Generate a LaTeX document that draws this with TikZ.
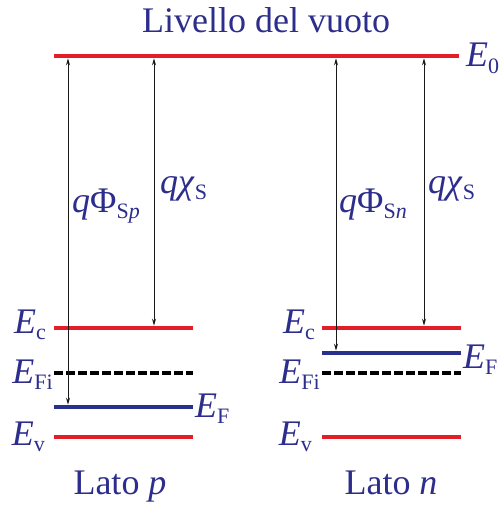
\documentclass[tikz,border=0pt]{standalone}
\usepackage{fontspec}
\setmainfont{Liberation Serif}
\usetikzlibrary{arrows.meta}
\definecolor{tblue}{RGB}{45,45,140}
\definecolor{lred}{RGB}{228,30,38}
\definecolor{lblue}{RGB}{40,50,140}
\newcommand{\lbsub}[1]{\raisebox{-0.4ex}{\fontsize{22}{22}\selectfont #1}}
\newcommand{\EE}[1]{\textit{E}\lbsub{#1}}
\begin{document}
\begin{tikzpicture}[x=1pt,y=-1pt,
  txt/.style={text=tblue,font=\fontsize{36}{36}\selectfont,inner sep=0pt},
  band/.style={lred,line width=4.5pt},
  fermi/.style={lblue,line width=4.5pt},
  intr/.style={black,line width=3.5pt,dash pattern=on 9pt off 3pt},
  dim/.style={black!90,line width=1pt,{Stealth[length=7pt,width=4pt]}-{Stealth[length=7pt,width=4pt]}}]
\useasboundingbox (0,0) rectangle (503,505);
% vacuum level
\coordinate (v0) at (54,56); \coordinate (v1) at (459,56);
\draw[band] (v0) -- (v1);
\node[txt,anchor=base] (title) at (266,33) {Livello del vuoto};
\node[txt,anchor=base west] (e0) at (466,67) {\EE{0}};
% left side (p)
\coordinate (lc0) at (54,328); \coordinate (lc1) at (193,328);
\coordinate (li0) at (54,373); \coordinate (li1) at (193,373);
\coordinate (lf0) at (54,407); \coordinate (lf1) at (193,407);
\coordinate (lv0) at (54,437); \coordinate (lv1) at (193,437);
\draw[band] (lc0) -- (lc1);
\draw[intr] (li0) -- (li1);
\draw[fermi] (lf0) -- (lf1);
\draw[band] (lv0) -- (lv1);
\node[txt,anchor=base east] (lec) at (46,333) {\EE{c}};
\node[txt,anchor=base east] (lei) at (53,383) {\EE{Fi}};
\node[txt,anchor=base east] (lev) at (45,445) {\EE{v}};
\node[txt,anchor=base west] (lef) at (195,417) {\EE{F}};
\node[txt,anchor=base] (latop) at (120,494) {Lato \textit{p}};
% right side (n)
\coordinate (rc0) at (322,328); \coordinate (rc1) at (461,328);
\coordinate (rf0) at (322,353); \coordinate (rf1) at (461,353);
\coordinate (ri0) at (322,373); \coordinate (ri1) at (461,373);
\coordinate (rv0) at (322,437); \coordinate (rv1) at (461,437);
\draw[band] (rc0) -- (rc1);
\draw[fermi] (rf0) -- (rf1);
\draw[intr] (ri0) -- (ri1);
\draw[band] (rv0) -- (rv1);
\node[txt,anchor=base east] (rec) at (315,333) {\EE{c}};
\node[txt,anchor=base east] (rei) at (320,383) {\EE{Fi}};
\node[txt,anchor=base east] (rev) at (312,445) {\EE{v}};
\node[txt,anchor=base west] (ref) at (463,368) {\EE{F}};
\node[txt,anchor=base] (laton) at (391,494) {Lato \textit{n}};
% arrows
\coordinate (a1t) at (68,58.3); \coordinate (a1b) at (68,404.7);
\coordinate (a2t) at (154,58.3); \coordinate (a2b) at (154,325.7);
\coordinate (a3t) at (336,58.3); \coordinate (a3b) at (336,350.7);
\coordinate (a4t) at (424,58.3); \coordinate (a4b) at (424,325.7);
\draw[dim] (a1t) -- (a1b);
\draw[dim] (a2t) -- (a2b);
\draw[dim] (a3t) -- (a3b);
\draw[dim] (a4t) -- (a4b);
\node[txt,anchor=base west] (phip) at (72,212) {\textit{q}Φ\lbsub{S\textit{p}}};
\node[txt,anchor=base west] (chip) at (160,193) {\textit{qχ}\lbsub{S}};
\node[txt,anchor=base west] (phin) at (339,212) {\textit{q}Φ\lbsub{S\textit{n}}};
\node[txt,anchor=base west] (chin) at (428,193) {\textit{qχ}\lbsub{S}};
\end{tikzpicture}
\end{document}
